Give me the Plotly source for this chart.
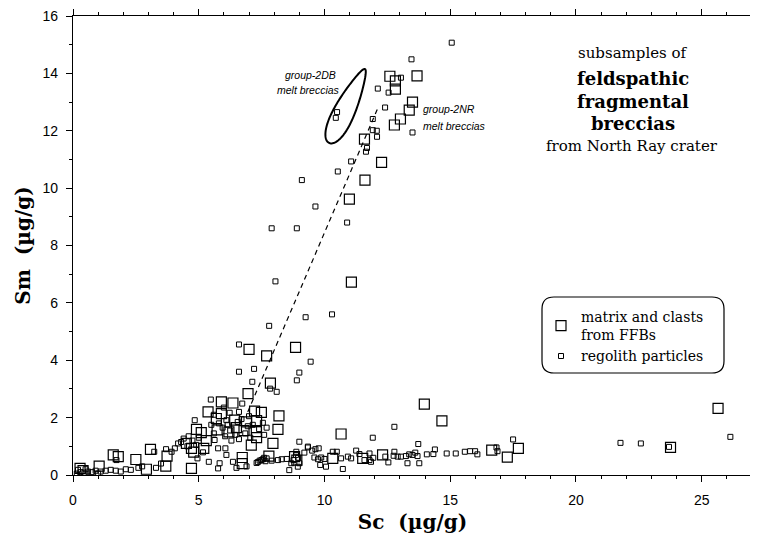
import numpy as np
import plotly.graph_objects as go

# ---------------- data ----------------
# matrix and clasts from FFBs (large squares)
ffb_sc = [12.6, 12.82, 12.82, 13.68, 13.5, 13.37, 13.02, 12.78, 11.59, 12.27, 11.61, 10.99, 11.07,
          8.85, 7.0, 7.7, 7.85, 6.96,
          5.9, 6.36, 5.37, 5.9, 7.22, 7.49, 8.19, 5.7, 6.43, 6.9, 7.3, 4.91, 5.1, 5.73, 6.2, 6.5, 6.8,
          7.29, 7.3, 8.15, 7.09, 7.95, 4.51, 4.71, 5.2, 5.3, 4.8, 6.73, 6.73, 7.79, 8.9,
          1.6, 1.8, 2.5, 3.08, 3.74, 3.69, 4.71, 2.92, 1.04, 0.28, 0.4,
          8.81, 10.33, 11.52, 12.31, 10.66, 13.97, 14.67, 16.65, 17.27, 17.71, 23.76, 25.65]
ffb_sm = [13.9, 13.74, 13.45, 13.91, 13.0, 12.72, 12.41, 12.2, 11.71, 10.9, 10.28, 9.62, 6.72,
          4.45, 4.38, 4.15, 3.2, 2.84,
          2.55, 2.51, 2.2, 2.14, 2.23, 2.18, 2.06, 1.97, 1.91, 1.85, 1.9, 1.59, 1.48, 1.57, 1.5, 1.65, 1.55,
          1.51, 1.3, 1.59, 1.04, 1.1, 1.1, 0.93, 0.93, 1.2, 0.8, 0.61, 0.4, 0.66, 0.52,
          0.7, 0.64, 0.54, 0.89, 0.66, 0.31, 0.23, 0.2, 0.31, 0.23, 0.15,
          0.64, 0.58, 0.58, 0.7, 1.43, 2.47, 1.89, 0.87, 0.62, 0.93, 0.96, 2.32]

# regolith particles (small squares)
reg_sc = [15.06, 13.46, 13.04, 12.55, 12.12, 12.41, 13.5, 11.92, 11.92, 12.08, 12.09, 11.69, 11.65,
          11.06, 10.53, 9.1, 10.9, 9.64, 8.9, 7.9, 8.05, 10.3, 9.25, 7.8, 9.45, 9.0, 10.5, 10.45,
          7.13, 7.84, 5.48, 6.6, 6.6, 7.2, 8.1, 8.9,
          0.15, 0.3, 0.45, 0.6, 0.75, 0.9, 1.1, 1.3, 1.5, 1.7, 1.9, 2.1, 2.3, 0.5, 0.2, 1.0, 2.6, 2.75,
          3.3, 3.5, 1.73, 3.23,
          4.18, 4.05, 3.92, 4.4, 4.3, 4.84, 4.95, 5.17, 5.63, 5.77, 6.06, 6.1, 5.4, 5.83, 5.77, 6.36,
          7.49, 7.35, 7.6, 7.65, 8.15, 8.5, 8.87, 9.0, 9.34, 6.23, 6.73, 7.55, 6.1,
          5.5, 5.6, 5.8, 5.95, 6.05, 6.15, 6.25, 6.3, 6.45, 6.55, 6.6, 6.7, 6.85, 6.95, 7.05, 7.15,
          7.4, 7.6, 7.7, 6.0, 6.6, 5.6, 7.0, 4.6, 4.75, 4.55, 4.9, 5.0, 3.7,
          7.3, 7.42, 7.55, 7.7, 7.9, 8.3, 6.9, 6.5,
          8.68, 8.94, 8.95, 8.77, 8.88, 9.34, 9.51, 9.64, 9.77, 9.2, 9.6, 9.74, 9.87, 10.0,
          10.33, 10.49, 10.66, 10.93, 11.06, 11.26, 11.39, 11.59, 11.79, 11.79, 11.85, 11.94,
          12.42, 12.54, 12.78, 12.75, 12.91, 13.04, 13.24, 13.3, 13.37, 13.5, 13.61, 13.7, 13.77,
          14.07, 14.33, 14.39, 14.86, 15.22, 15.58, 15.79, 15.99, 16.08, 16.84, 16.88,
          9.83, 10.06, 10.73, 8.6, 17.5, 13.73, 12.78, 11.92, 9.0,
          21.77, 22.58, 23.7, 26.14]
reg_sm = [15.07, 14.49, 13.85, 13.33, 13.47, 12.81, 11.94, 12.41, 12.02, 12.0, 11.79, 11.4, 11.27,
          10.93, 10.58, 10.28, 8.8, 9.36, 8.6, 8.6, 6.75, 5.6, 5.5, 5.2, 3.95, 3.57, 12.65, 12.45,
          3.25, 3.01, 2.63, 4.55, 3.6, 3.7, 2.9, 3.3,
          0.05, 0.1, 0.08, 0.12, 0.1, 0.15, 0.12, 0.15, 0.18, 0.15, 0.12, 0.2, 0.18, 0.2, 0.18, 0.05, 0.25, 0.3,
          0.25, 0.4, 0.52, 0.81,
          1.1, 0.93, 0.81, 1.27, 1.15, 1.91, 0.58, 0.79, 1.22, 0.93, 0.93, 0.7, 0.46, 0.41, 0.23, 0.46,
          0.52, 0.45, 0.6, 0.48, 0.52, 0.56, 0.7, 0.41, 0.99, 2.17, 2.49, 1.82, 1.91,
          1.75, 1.45, 1.8, 1.65, 1.35, 1.75, 1.55, 1.2, 1.4, 1.85, 1.25, 1.95, 1.45, 1.7, 1.3, 1.75,
          1.6, 1.4, 1.65, 2.35, 2.2, 2.1, 2.05, 1.35, 1.2, 1.0, 1.05, 1.3, 0.9,
          0.42, 0.5, 0.55, 0.58, 0.5, 0.55, 0.3, 0.25,
          0.41, 0.29, 0.6, 0.52, 0.81, 0.96, 0.85, 0.9, 0.93, 0.78, 0.61, 0.55, 0.61, 0.56,
          0.81, 0.81, 0.58, 0.64, 0.58, 0.85, 0.73, 0.52, 0.75, 0.52, 0.46, 0.6,
          0.64, 0.44, 0.81, 0.67, 0.64, 0.64, 0.66, 0.41, 0.72, 0.7, 0.78, 0.66, 0.41,
          0.72, 0.73, 0.89, 0.75, 0.75, 0.81, 0.83, 0.83, 0.72, 0.96, 0.83,
          0.35, 0.29, 0.21, 0.17, 1.24, 1.08, 1.68, 1.3, 1.16,
          1.12, 1.1, 0.98, 1.33]

# dashed trend line for group-2NR
trend_sc = [6.95, 12.15]
trend_sm = [2.2, 12.85]

# text
x_title = "Sc  (µg/g)"
y_title = "Sm  (µg/g)"
x_ticks = [0, 5, 10, 15, 20, 25]
y_ticks = [0, 2, 4, 6, 8, 10, 12, 14, 16]

# ---------------- layout geometry (window pixel coordinates) ----------------
OFF = 8                      # default page body margin
WIN_W, WIN_H = 758, 541
PL, PR, PT, PB = 73, 752, 16, 475   # plot area edges in the window
W, H = WIN_W - OFF, WIN_H - OFF
ML, MT = PL - OFF, PT - OFF
MR, MB = WIN_W - PR, WIN_H - PB
PW, PH = PR - PL, PB - PT
XR, YR = [0, 27], [0, 16]
pxx = PW / (XR[1] - XR[0])
pxy = PH / (YR[1] - YR[0])

serif = "DejaVu Serif"
sans = "Liberation Sans Narrow, Arial Narrow, Liberation Sans, Arial"

def dx(xp):
    return (xp - PL) / pxx
def dy(yp):
    return (PB - yp) / pxy
def px2paper(xp, yp):
    return (xp - PL) / PW, (PB - yp) / PH

fig = go.Figure()

fig.add_trace(go.Scatter(
    x=trend_sc, y=trend_sm, mode="lines", showlegend=False,
    line=dict(color="black", width=1.2, dash="5px,4px"), hoverinfo="skip"))

fig.add_trace(go.Scatter(
    x=ffb_sc, y=ffb_sm, mode="markers", name="matrix and clasts<br>from FFBs",
    marker=dict(symbol="square-open", size=10, color="black", line=dict(width=1.2, color="black"))))

fig.add_trace(go.Scatter(
    x=reg_sc, y=reg_sm, mode="markers", name="regolith particles",
    marker=dict(symbol="square-open", size=5, color="black", line=dict(width=1, color="black"))))

# group-2DB outline (egg shape), defined in pixel space then mapped to data
cx_px, cy_px = 347.0, 106.0
a_px, b_px = 41.0, 10.0
ux, uy = 0.4375, -0.9  # unit vector toward pointed top (pixel coords)
t = np.linspace(0, 2 * np.pi, 120)
u = a_px * np.cos(t)
v = b_px * np.sin(t) * (1 - 0.4 * np.cos(t))
px = cx_px + u * ux + v * (-uy)
py = cy_px + u * uy + v * ux
ex = dx(px)
ey = dy(py)
path = "M " + " L ".join(f"{a:.4f},{b:.4f}" for a, b in zip(ex, ey)) + " Z"
fig.add_shape(type="path", path=path, xref="x", yref="y",
              line=dict(color="black", width=2))

# rounded legend frame (paper coords)
bx0, bx1, by0, by1 = 542, 724, 297, 373
r = 12
def P(xp, yp):
    a, b = px2paper(xp, yp)
    return f"{a:.5f},{b:.5f}"
frame = (f"M {P(bx0 + r, by0)} L {P(bx1 - r, by0)} Q {P(bx1, by0)} {P(bx1, by0 + r)} "
         f"L {P(bx1, by1 - r)} Q {P(bx1, by1)} {P(bx1 - r, by1)} "
         f"L {P(bx0 + r, by1)} Q {P(bx0, by1)} {P(bx0, by1 - r)} "
         f"L {P(bx0, by0 + r)} Q {P(bx0, by0)} {P(bx0 + r, by0)} Z")
fig.add_shape(type="path", path=frame, xref="paper", yref="paper",
              line=dict(color="black", width=1.2))

# text annotations
def ann(text, x, y, size, bold=False, italic=False, family=serif, xanchor="center"):
    if bold:
        text = f"<b>{text}</b>"
    if italic:
        text = f"<i>{text}</i>"
    fig.add_annotation(text=text, x=x, y=y, xref="x", yref="y", showarrow=False,
                       font=dict(family=family, size=size, color="black"),
                       xanchor=xanchor, yanchor="middle")

ann("subsamples of", dx(633), dy(53), 15)
ann("feldspathic", dx(633), dy(78), 18, bold=True)
ann("fragmental", dx(633), dy(101), 18, bold=True)
ann("breccias", dx(633), dy(123), 18, bold=True)
ann("from North Ray crater", dx(632), dy(146), 15)

ann("group-2DB", dx(338), dy(75), 10.5, italic=True, family="Liberation Sans", xanchor="right")
ann("melt breccias", dx(342), dy(90), 10.5, italic=True, family="Liberation Sans", xanchor="right")
ann("group-2NR", dx(421), dy(109), 10.5, italic=True, family="Liberation Sans", xanchor="left")
ann("melt breccias", dx(421), dy(126), 10.5, italic=True, family="Liberation Sans", xanchor="left")

axis_common = dict(showline=True, linecolor="black", linewidth=1.3, mirror="ticks",
                   ticks="outside", ticklen=6, tickwidth=1.2, tickcolor="black",
                   showgrid=False, zeroline=False, automargin=False,
                   ticklabeloverflow="allow",
                   tickfont=dict(family=sans, size=14, color="black"))

fig.update_xaxes(range=XR, tickvals=x_ticks, ticklabelstandoff=6, **axis_common,
                 minor=dict(dtick=1, ticks="outside", ticklen=3, tickcolor="black", tickwidth=1),
                 title=dict(text=f"<b>{x_title}</b>", font=dict(family=serif, size=20, color="black"),
                            standoff=8))
fig.update_yaxes(range=YR, tickvals=y_ticks, ticklabelstandoff=5, **axis_common,
                 minor=dict(dtick=1, ticks="outside", ticklen=3, tickcolor="black", tickwidth=1),
                 title=dict(text=f"<b>{y_title}</b>", font=dict(family=serif, size=20, color="black"),
                            standoff=6))

fig.update_layout(
    width=W, height=H, margin=dict(l=ML, r=MR, t=MT, b=MB),
    paper_bgcolor="white", plot_bgcolor="white",
    showlegend=True,
    legend=dict(x=px2paper(541, 0)[0], y=px2paper(0, 301)[1], xanchor="left", yanchor="top",
                bgcolor="rgba(0,0,0,0)", borderwidth=0,
                font=dict(family=serif, size=14, color="black"), tracegroupgap=2,
                itemsizing="trace"),
)

fig.write_html("out.html")
